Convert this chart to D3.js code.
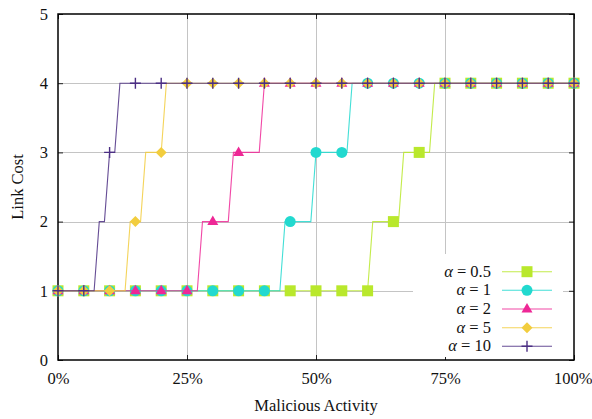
<!DOCTYPE html>
<html>
<head>
<meta charset="utf-8">
<script src="https://cdn.jsdelivr.net/npm/d3@7/dist/d3.min.js"></script>
<style>
  html, body { margin: 0; padding: 0; background: #fff; }
  svg { display: block; }
  text { font-family: "Liberation Serif", "DejaVu Serif", serif; fill: #111; }
</style>
</head>
<body>
<svg id="chart" width="592" height="419"></svg>
<script>
// ---- data ----
const alphaLabels = ["0.5", "1", "2", "5", "10"];
const seriesColors = ["#b9e82c", "#22d9cf", "#ee2896", "#f2cd3e", "#4b2e83"];
const seriesShapes = ["square", "circle", "triangle", "diamond", "plus"];

// line vertices (percent of malicious activity, link cost)
const lineX_a05 = [0, 60, 61, 66, 67, 72, 73, 100];
const lineY_a05 = [1, 1, 2, 2, 3, 3, 4, 4];
const lineX_a1  = [0, 43, 44, 49, 50, 56, 57, 100];
const lineY_a1  = [1, 1, 2, 2, 3, 3, 4, 4];
const lineX_a2  = [0, 27, 28, 33, 34, 39, 40, 100];
const lineY_a2  = [1, 1, 2, 2, 3, 3, 4, 4];
const lineX_a5  = [0, 13, 14, 16, 17, 20, 21, 100];
const lineY_a5  = [1, 1, 2, 2, 3, 3, 4, 4];
const lineX_a10 = [0, 7, 8, 9, 10, 11, 12, 100];
const lineY_a10 = [1, 1, 2, 2, 3, 3, 4, 4];

// marker positions and values
const markerX   = [0, 5, 10, 15, 20, 25, 30, 35, 40, 45, 50, 55, 60, 65, 70, 75, 80, 85, 90, 95, 100];
const marks_a05 = [1, 1, 1, 1, 1, 1, 1, 1, 1, 1, 1, 1, 1, 2, 3, 4, 4, 4, 4, 4, 4];
const marks_a1  = [1, 1, 1, 1, 1, 1, 1, 1, 1, 2, 3, 3, 4, 4, 4, 4, 4, 4, 4, 4, 4];
const marks_a2  = [1, 1, 1, 1, 1, 1, 2, 3, 4, 4, 4, 4, 4, 4, 4, 4, 4, 4, 4, 4, 4];
const marks_a5  = [1, 1, 1, 2, 3, 4, 4, 4, 4, 4, 4, 4, 4, 4, 4, 4, 4, 4, 4, 4, 4];
const marks_a10 = [1, 1, 3, 4, 4, 4, 4, 4, 4, 4, 4, 4, 4, 4, 4, 4, 4, 4, 4, 4, 4];

const xTickValues = [0, 25, 50, 75, 100];
const xTickLabels = ["0%", "25%", "50%", "75%", "100%"];
const yTickValues = [0, 1, 2, 3, 4, 5];
const yTickLabels = ["0", "1", "2", "3", "4", "5"];
const xTitle = "Malicious Activity";
const yTitle = "Link Cost";

const series = [
  { lx: lineX_a05, ly: lineY_a05, m: marks_a05 },
  { lx: lineX_a1,  ly: lineY_a1,  m: marks_a1 },
  { lx: lineX_a2,  ly: lineY_a2,  m: marks_a2 },
  { lx: lineX_a5,  ly: lineY_a5,  m: marks_a5 },
  { lx: lineX_a10, ly: lineY_a10, m: marks_a10 }
].map((s, i) => Object.assign(s, { label: alphaLabels[i], color: seriesColors[i], shape: seriesShapes[i] }));

// ---- layout ----
const FS = 16.5;
const L = 58, R = 574, T = 14, B = 360;
const x = d3.scaleLinear().domain([0, 100]).range([L, R]);
const y = d3.scaleLinear().domain([0, 5]).range([B, T]);
const svg = d3.select("#chart");

// grid
const grid = svg.append("g").attr("stroke", "#c4c4c4").attr("stroke-width", 1);
grid.selectAll("line.h").data([1, 2, 3, 4]).join("line")
  .attr("x1", L).attr("x2", R)
  .attr("y1", d => Math.round(y(d)) + 0.5).attr("y2", d => Math.round(y(d)) + 0.5);
grid.selectAll("line.v").data([25, 50, 75]).join("line")
  .attr("y1", T).attr("y2", B)
  .attr("x1", d => Math.round(x(d)) + 0.5).attr("x2", d => Math.round(x(d)) + 0.5);

// axes with inward ticks, labels
const fmtX = (d) => xTickLabels[xTickValues.indexOf(d)];
const fmtY = (d) => yTickLabels[yTickValues.indexOf(d)];
const axB = svg.append("g").attr("transform", `translate(0,${B})`)
  .call(d3.axisBottom(x).tickValues(xTickValues).tickFormat(fmtX).tickSizeInner(-5).tickSizeOuter(0).tickPadding(12));
const axL = svg.append("g").attr("transform", `translate(${L},0)`)
  .call(d3.axisLeft(y).tickValues(yTickValues).tickFormat(fmtY).tickSizeInner(-5).tickSizeOuter(0).tickPadding(10));
const axR = svg.append("g").attr("transform", `translate(${R},0)`)
  .call(d3.axisRight(y).tickValues(yTickValues).tickFormat("").tickSizeInner(-5).tickSizeOuter(0));
const axT = svg.append("g").attr("transform", `translate(0,${T})`)
  .call(d3.axisTop(x).tickValues(xTickValues).tickFormat("").tickSizeInner(-5).tickSizeOuter(0));
[axB, axL, axR, axT].forEach(a => {
  a.select(".domain").remove();
  a.selectAll(".tick line").attr("stroke", "#222");
  a.selectAll("text").attr("font-size", FS).attr("fill", "#111");
});
// keep the last x label inside the canvas
axB.selectAll(".tick text").filter(d => d === 100).attr("text-anchor", "end").attr("x", 18);

// frame
svg.append("rect").attr("x", L).attr("y", T).attr("width", R - L).attr("height", B - T)
  .attr("fill", "none").attr("stroke", "#000").attr("stroke-width", 1.5);

// titles
svg.append("text").attr("x", (L + R) / 2).attr("y", 411).attr("text-anchor", "middle")
  .attr("font-size", FS).text(xTitle);
svg.append("text").attr("transform", "translate(23,187) rotate(-90)").attr("text-anchor", "middle")
  .attr("font-size", FS).text(yTitle);

// marker drawer
function drawMarker(g, shape, color, cx, cy) {
  if (shape === "square") {
    g.append("rect").attr("x", cx - 5.5).attr("y", cy - 5.5).attr("width", 11).attr("height", 11).attr("fill", color);
  } else if (shape === "circle") {
    g.append("circle").attr("cx", cx).attr("cy", cy).attr("r", 5.5).attr("fill", color);
  } else if (shape === "triangle") {
    g.append("path").attr("d", `M${cx},${cy - 6}L${cx + 5.5},${cy + 3.5}L${cx - 5.5},${cy + 3.5}Z`).attr("fill", color);
  } else if (shape === "diamond") {
    g.append("path").attr("d", `M${cx},${cy - 5.5}L${cx + 5.5},${cy}L${cx},${cy + 5.5}L${cx - 5.5},${cy}Z`).attr("fill", color);
  } else if (shape === "plus") {
    g.append("path").attr("d", `M${cx - 5.5},${cy}H${cx + 5.5}M${cx},${cy - 5.5}V${cy + 5.5}`)
      .attr("stroke", color).attr("stroke-width", 1.4).attr("fill", "none");
  }
}

const line = d3.line().x(d => x(d[0])).y(d => y(d[1]));

const plot = svg.append("g");
series.forEach(s => {
  const g = plot.append("g");
  const pts = s.lx.map((v, i) => [v, s.ly[i]]);
  g.append("path").attr("d", line(pts)).attr("fill", "none")
    .attr("stroke", s.color).attr("stroke-width", 1.1).attr("stroke-opacity", 0.85);
  markerX.forEach((mx, i) => drawMarker(g, s.shape, s.color, x(mx), y(s.m[i])));
});

// legend (opaque key)
const lg = svg.append("g");
lg.append("rect").attr("x", 413).attr("y", 254).attr("width", 150).attr("height", 103).attr("fill", "#fff");
const rowY = [271.7, 290.3, 309, 327.7, 346.3];
series.forEach((s, i) => {
  const ry = rowY[i];
  const t = lg.append("text").attr("x", 491).attr("y", ry + 5).attr("text-anchor", "end").attr("font-size", FS);
  t.append("tspan").attr("font-style", "italic").text("α");
  t.append("tspan").text(" = " + s.label);
  lg.append("line").attr("x1", 502).attr("x2", 552).attr("y1", ry).attr("y2", ry)
    .attr("stroke", s.color).attr("stroke-width", 1.1).attr("stroke-opacity", 0.85);
  drawMarker(lg, s.shape, s.color, 527, ry);
});
</script>
</body>
</html>
